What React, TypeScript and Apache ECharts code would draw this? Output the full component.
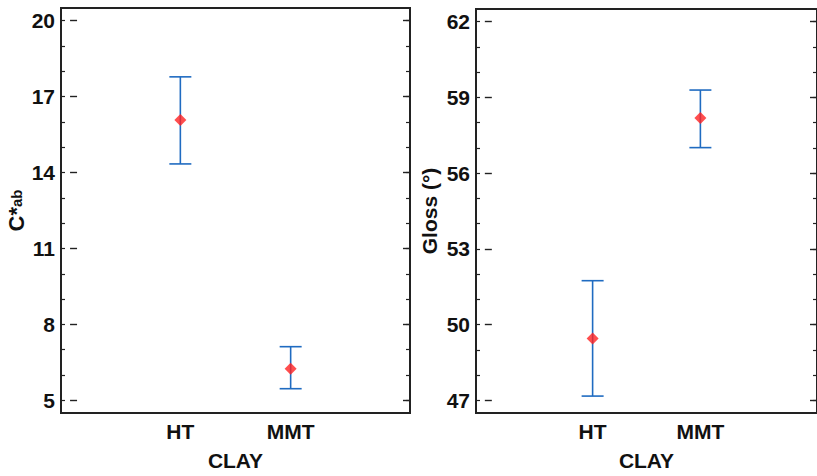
import React, { useEffect, useRef } from "react";
import * as echarts from "echarts";

const categories = ["HT", "MMT"];
const catPositions = [1, 2];

const chromaMean = [16.08, 6.25];
const chromaLow = [14.34, 5.46];
const chromaHigh = [17.78, 7.12];

const glossMean = [49.45, 58.18];
const glossLow = [47.17, 57.01];
const glossHigh = [51.74, 59.29];

const chromaTicks = [5, 8, 11, 14, 17, 20];
const chromaMinor = [5, 6, 7, 8, 9, 10, 11, 12, 13, 14, 15, 16, 17, 18, 19, 20];
const glossTicks = [47, 50, 53, 56, 59, 62];
const glossMinor = [47, 48, 49, 50, 51, 52, 53, 54, 55, 56, 57, 58, 59, 60, 61, 62];

const FONT = "'Liberation Sans', Arial, Helvetica, sans-serif";
const TEXT = "#111";
const FRAME = "#222";
const BAR = "#1f6bc1";
const DOT = "#ff2222";
const FS = 21;

function yAxesFor(gridIndex: number, min: number, max: number, majors: number[], minors: number[], name: any, nameGap: number, rich?: any) {
  const base = {
    type: "value",
    gridIndex,
    min,
    max,
    splitLine: { show: false },
    axisLine: { show: false },
  };
  return [
    {
      ...base,
      position: "left",
      name,
      nameLocation: "middle",
      nameRotate: 90,
      nameGap,
      nameTextStyle: { fontFamily: FONT, fontWeight: "bold", fontSize: FS, color: TEXT, rich },
      axisTick: { show: true, inside: true, length: 7, customValues: majors, lineStyle: { color: FRAME, width: 1.4 } },
      axisLabel: { show: true, customValues: majors, margin: 6, fontFamily: FONT, fontWeight: "bold", fontSize: FS, color: TEXT },
    },
    {
      ...base,
      position: "left",
      axisTick: { show: true, inside: true, length: 4, customValues: minors, lineStyle: { color: FRAME, width: 1.2 } },
      axisLabel: { show: false },
    },
    {
      ...base,
      position: "right",
      axisTick: { show: true, inside: true, length: 7, customValues: majors, lineStyle: { color: FRAME, width: 1.4 } },
      axisLabel: { show: false },
    },
    {
      ...base,
      position: "right",
      axisTick: { show: true, inside: true, length: 4, customValues: minors, lineStyle: { color: FRAME, width: 1.2 } },
      axisLabel: { show: false },
    },
  ];
}

function xAxisFor(gridIndex: number) {
  return {
    type: "value",
    gridIndex,
    min: -0.082,
    max: 3.082,
    splitLine: { show: false },
    axisLine: { show: false },
    axisTick: { show: false },
    axisLabel: {
      show: true,
      customValues: catPositions,
      formatter: (v: number) => categories[catPositions.indexOf(v)] ?? "",
      margin: 8,
      fontFamily: FONT,
      fontWeight: "bold",
      fontSize: FS,
      color: TEXT,
    },
    name: "CLAY",
    nameLocation: "middle",
    nameGap: 37,
    nameTextStyle: { fontFamily: FONT, fontWeight: "bold", fontSize: FS, color: TEXT },
  };
}

function errorSeries(xAxisIndex: number, yAxisIndex: number, low: number[], high: number[]) {
  return {
    type: "custom",
    xAxisIndex,
    yAxisIndex,
    data: catPositions.map((x, i) => [x, low[i], high[i]]),
    encode: { x: 0, y: [1, 2] },
    renderItem: (params: any, api: any) => {
      const x = api.value(0);
      const lo = api.coord([x, api.value(1)]);
      const hi = api.coord([x, api.value(2)]);
      const hw = 11;
      const style = { stroke: BAR, lineWidth: 1.6 };
      return {
        type: "group",
        children: [
          { type: "line", shape: { x1: lo[0], y1: lo[1], x2: hi[0], y2: hi[1] }, style },
          { type: "line", shape: { x1: hi[0] - hw, y1: hi[1], x2: hi[0] + hw, y2: hi[1] }, style },
          { type: "line", shape: { x1: lo[0] - hw, y1: lo[1], x2: lo[0] + hw, y2: lo[1] }, style },
        ],
      };
    },
    z: 2,
  };
}

function meanSeries(xAxisIndex: number, yAxisIndex: number, mean: number[]) {
  return {
    type: "scatter",
    xAxisIndex,
    yAxisIndex,
    data: catPositions.map((x, i) => [x, mean[i]]),
    symbol: "diamond",
    symbolSize: 12,
    itemStyle: { color: DOT },
    z: 3,
  };
}

export default function App() {
  const ref = useRef<HTMLDivElement>(null);
  useEffect(() => {
    if (!ref.current) return;
    const chart = echarts.init(ref.current, undefined, { renderer: "svg" });
    const gridStyle = { show: true, borderColor: FRAME, borderWidth: 2, backgroundColor: "transparent" };
    chart.setOption({
      animation: false,
      backgroundColor: "#fff",
      grid: [
        { ...gridStyle, left: 61, right: 407, top: 8, bottom: 63 },
        { ...gridStyle, left: 476, right: -6, top: 9, bottom: 63 },
      ],
      xAxis: [xAxisFor(0), xAxisFor(1)],
      yAxis: [
        ...yAxesFor(0, 4.5, 20.5, chromaTicks, chromaMinor, "{m|C*}{s|ab}", 30, {
          m: { fontFamily: FONT, fontWeight: "bold", fontSize: 22, color: TEXT, verticalAlign: "bottom", lineHeight: 24 },
          s: { fontFamily: FONT, fontWeight: "bold", fontSize: 15, color: TEXT, verticalAlign: "bottom", lineHeight: 22, padding: [0, 0, 4, 0] },
        }),
        ...yAxesFor(1, 46.5, 62.5, glossTicks, glossMinor, "Gloss (°)", 36),
      ],
      series: [
        errorSeries(0, 0, chromaLow, chromaHigh),
        meanSeries(0, 0, chromaMean),
        errorSeries(1, 4, glossLow, glossHigh),
        meanSeries(1, 4, glossMean),
      ],
    });
    return () => chart.dispose();
  }, []);
  return <div ref={ref} style={{ position: "absolute", left: 0, top: 0, width: 817, height: 476 }} />;
}
